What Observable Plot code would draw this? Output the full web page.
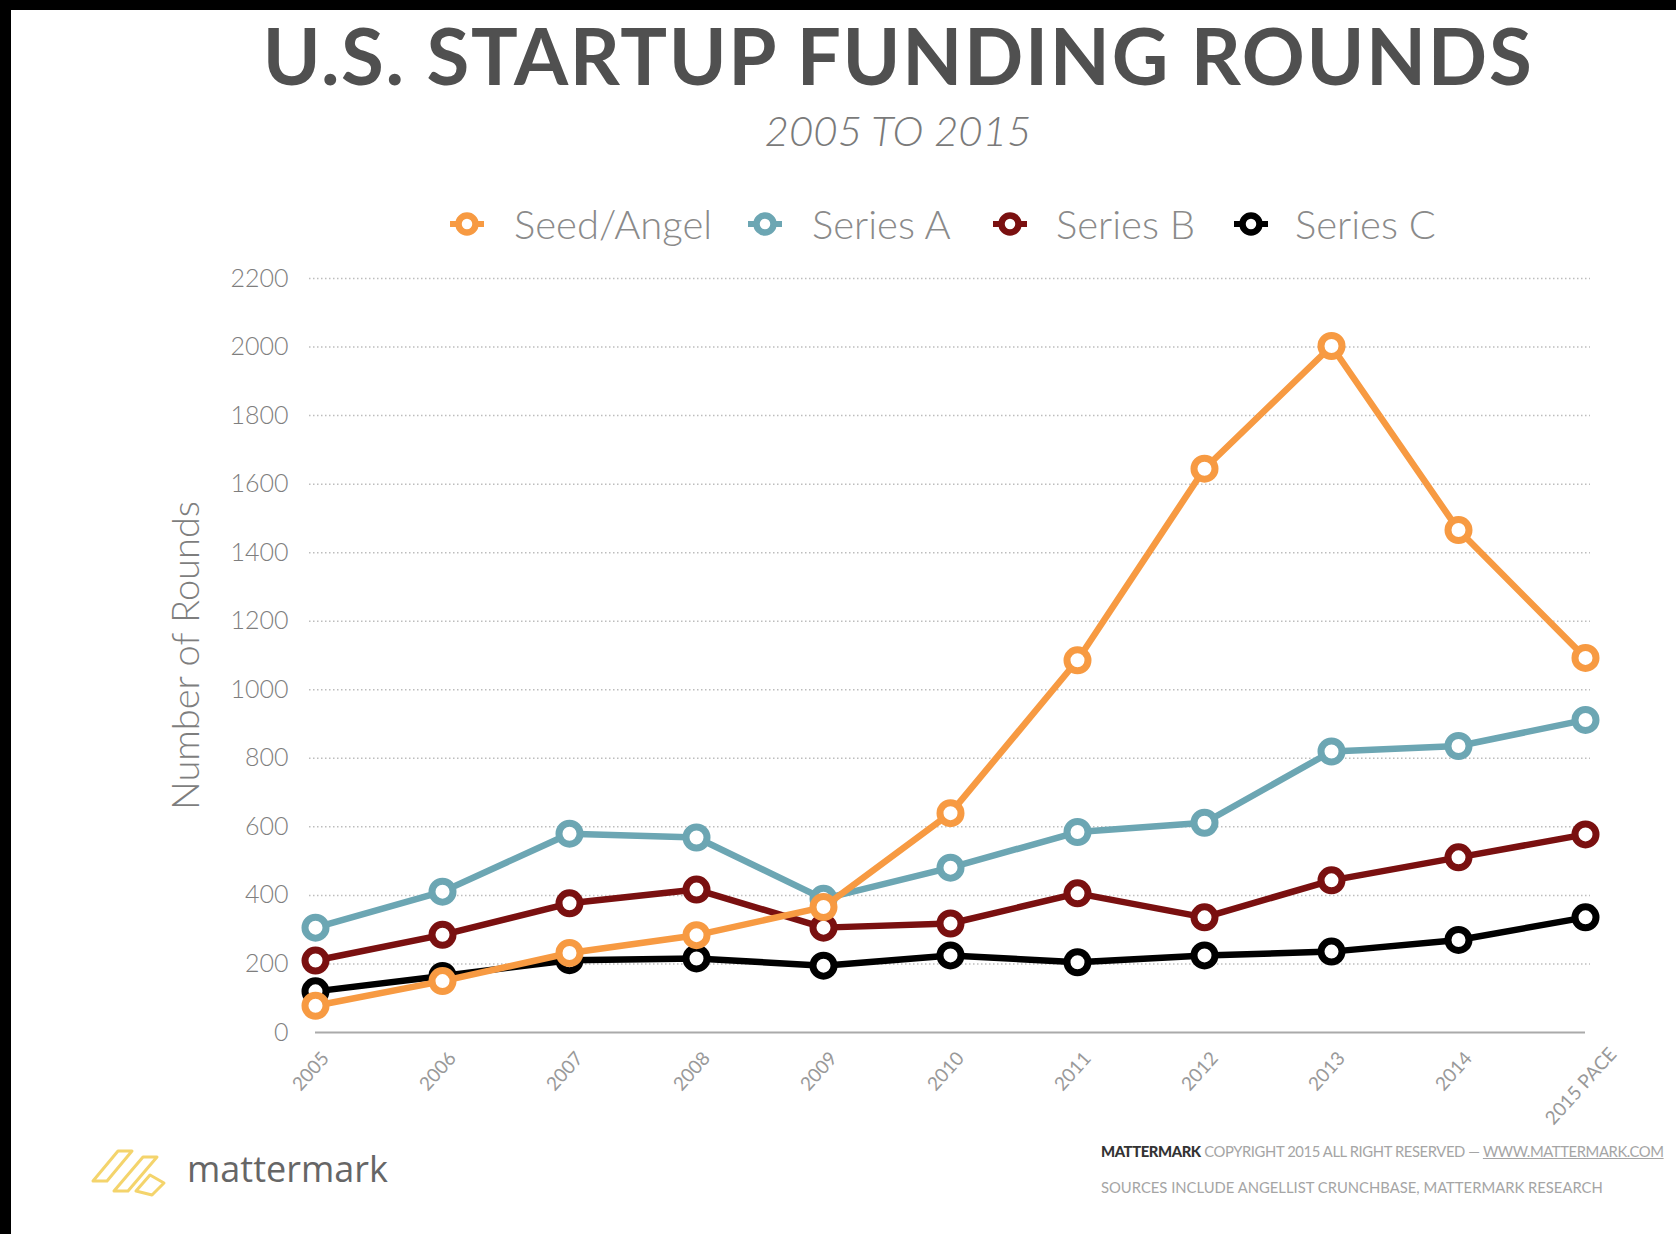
<!DOCTYPE html>
<html>
<head>
<meta charset="utf-8">
<script src="https://cdn.jsdelivr.net/npm/d3@7"></script>
<script src="https://cdn.jsdelivr.net/npm/@observablehq/plot@0.6"></script>
<style>
  html, body { margin: 0; padding: 0; }
  body { width: 1676px; height: 1234px; overflow: hidden; background: #fff; position: relative; font-family: Lato, "Open Sans", sans-serif; }
  .border-top { position: absolute; left: 0; top: 0; width: 1676px; height: 10px; background: #000; z-index: 10; }
  .border-left { position: absolute; left: 0; top: 0; width: 11px; height: 1234px; background: #000; z-index: 10; }
  #title { position: absolute; left: 898px; top: 16px; transform: translateX(-50%); white-space: nowrap;
           font-family: Lato, sans-serif; font-weight: 700; font-size: 78px; line-height: 78px; color: #505050; letter-spacing: 1.7px; }
  #subtitle { position: absolute; left: 898px; top: 109px; transform: translateX(-50%); white-space: nowrap;
           font-family: Lato, sans-serif; font-weight: 300; font-style: italic; font-size: 42px; line-height: 42px; color: #7a7a7a; }
  .leg-marker { position: absolute; top: 206px; width: 36px; height: 36px; }
  .leg-text { position: absolute; top: 204px; height: 40px; line-height: 40px; font-family: Lato, sans-serif; font-weight: 300;
              font-size: 40px; color: #8a8a8a; white-space: nowrap; }
  #chart { position: absolute; left: 0; top: 240px; }
  #logo { position: absolute; left: 88px; top: 1143px; }
  #logo-text { position: absolute; left: 187px; top: 1147px; font-family: "Open Sans", sans-serif; font-size: 36px; line-height: 44px; color: #666; }
  .foot { position: absolute; left: 1101px; white-space: nowrap; font-family: Lato, sans-serif; font-size: 14.8px; line-height: 16px; color: #a5a5a5; }
  .foot.l1 { letter-spacing: -0.4px; }
  .foot b { color: #333; font-weight: 900; }
  .foot u { color: #a5a5a5; }
</style>
</head>
<body>
<div class="border-top"></div>
<div class="border-left"></div>
<div id="title">U.S. STARTUP FUNDING ROUNDS</div>
<div id="subtitle">2005 TO 2015</div>
<div id="legend"></div>
<div id="chart"></div>
<svg id="logo" width="90" height="56" viewBox="0 0 90 56">
  <g fill="none" stroke="#f4d46c" stroke-width="3" stroke-linejoin="round">
    <path d="M5 38 L30 8 L44 8 L19 38 Z"/>
    <path d="M26 48 L55 14 L69 14 L40 48 Z"/>
    <path d="M48 48 L62 32 L76 40 L64 52 Z"/>
  </g>
</svg>
<div id="logo-text">mattermark</div>
<div class="foot l1" style="top:1143px;"><b>MATTERMARK</b> COPYRIGHT 2015 ALL RIGHT RESERVED — <u>WWW.MATTERMARK.COM</u></div>
<div class="foot" style="top:1179px;">SOURCES INCLUDE ANGELLIST CRUNCHBASE, MATTERMARK RESEARCH</div>
<script>
// ---- data ----
const years = ["2005", "2006", "2007", "2008", "2009", "2010", "2011", "2012", "2013", "2014", "2015 PACE"];
const seriesNames = ["Seed/Angel", "Series A", "Series B", "Series C"];
const seriesColors = ["#f79a42", "#6ca6b3", "#7a1010", "#000000"];
const seedAngel = [78, 150, 232, 284, 366, 640, 1086, 1645, 2003, 1466, 1093];
const seriesA   = [306, 411, 580, 569, 390, 481, 585, 612, 820, 836, 912];
const seriesB   = [210, 285, 377, 417, 306, 318, 406, 336, 444, 511, 578];
const seriesC   = [120, 165, 211, 216, 195, 225, 205, 225, 236, 270, 336];
const yTicks = [0, 200, 400, 600, 800, 1000, 1200, 1400, 1600, 1800, 2000, 2200];
const yLabel = "Number of Rounds";

const valuesBySeries = [seedAngel, seriesA, seriesB, seriesC];
const rows = [];
seriesNames.forEach((s, i) => valuesBySeries[i].forEach((v, j) => rows.push({series: s, year: years[j], value: v})));

// ---- legend (HTML) ----
const legendPos = [[467, 514], [765, 812], [1010, 1056], [1251, 1295]];
const legend = document.getElementById("legend");
seriesNames.forEach((s, i) => {
  const [mx, tx] = legendPos[i];
  const m = document.createElementNS("http://www.w3.org/2000/svg", "svg");
  m.setAttribute("class", "leg-marker");
  m.setAttribute("viewBox", "-18 -18 36 36");
  m.style.left = (mx - 18) + "px";
  m.innerHTML = `<line x1="-17" x2="17" y1="0" y2="0" stroke="${seriesColors[i]}" stroke-width="6"/>` +
                `<circle r="8.5" fill="#fff" stroke="${seriesColors[i]}" stroke-width="6.5"/>`;
  legend.appendChild(m);
  const t = document.createElement("div");
  t.className = "leg-text";
  t.style.left = tx + "px";
  t.textContent = s;
  legend.appendChild(t);
});

// ---- chart ----
const drawOrder = ["Series C", "Series B", "Series A", "Seed/Angel"];
const seriesMarks = [];
drawOrder.forEach(s => {
  const d = rows.filter(r => r.series === s);
  seriesMarks.push(Plot.line(d, {x: "year", y: "value", stroke: "series", strokeWidth: 6.5, strokeLinejoin: "round"}));
  seriesMarks.push(Plot.dot(d, {x: "year", y: "value", stroke: "series", r: 10.5, strokeWidth: 7, fill: "white"}));
});

const chart = Plot.plot({
  width: 1676,
  height: 892,
  marginTop: 38,
  marginBottom: 100,
  marginLeft: 315,
  marginRight: 91,
  style: {fontFamily: "Lato, sans-serif", background: "transparent", overflow: "visible"},
  x: {type: "point", domain: years, padding: 0, axis: null},
  y: {domain: [0, 2200], axis: null},
  color: {domain: seriesNames, range: seriesColors},
  marks: [
    Plot.gridY(yTicks.filter(t => t > 0), {stroke: "#bdbdbd", strokeOpacity: 1, strokeWidth: 1.5, strokeDasharray: "1.5,2.5", insetLeft: -6, insetRight: -5}),
    Plot.ruleY([0], {stroke: "#aaaaaa", strokeWidth: 2}),
    Plot.axisY(yTicks, {tickSize: 0, tickPadding: 27, fontSize: 25, fontWeight: 300, fill: "#7e7e7e", tickFormat: d3.format("d"), label: null}),
    Plot.text([yLabel], {frameAnchor: "left", textAnchor: "middle", dx: -143, rotate: -90, lineAnchor: "top", fontSize: 38, fontWeight: 300, fill: "#7e7e7e"}),
    Plot.text(years.slice(0, years.length - 1), {x: d => d, frameAnchor: "bottom", rotate: -48, textAnchor: "middle", dy: 43, fontSize: 19, fill: "#999"}),
    Plot.text(years.slice(years.length - 1), {x: d => d, frameAnchor: "bottom", rotate: -48, textAnchor: "middle", dy: 58, fontSize: 19, fill: "#999"}),
    ...seriesMarks
  ]
});
document.getElementById("chart").appendChild(chart);
</script>
</body>
</html>
